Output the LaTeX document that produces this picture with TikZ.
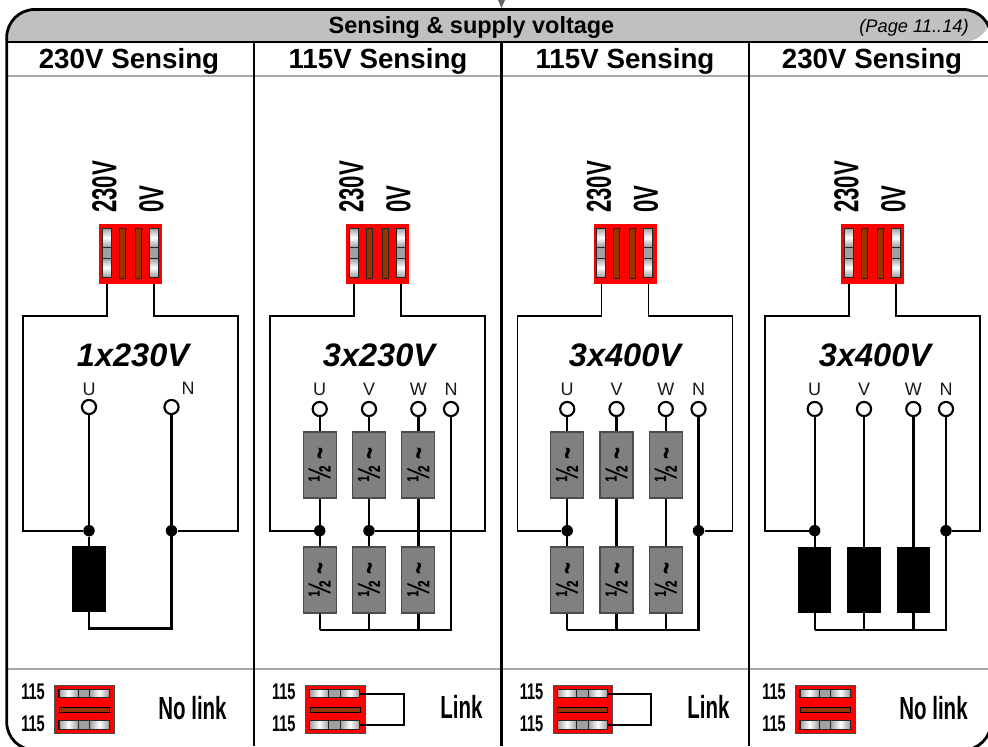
\documentclass[tikz,border=0pt]{standalone}
\usepackage{fontspec}
\usepackage{graphicx}
\setmainfont{Liberation Sans}
\newfontfamily\narrowfont[FakeStretch=0.64]{Liberation Sans}
\definecolor{bandgray}{HTML}{C0C0C0}
\definecolor{rulegray}{HTML}{A8A8A8}
\definecolor{halfgray}{HTML}{808080}
\definecolor{seggray}{HTML}{A0A0A0}
\definecolor{barbrown}{HTML}{993300}
\tikzset{
	wire/.style={line width=1.8pt,black},
	sensewire/.style={line width=1.3pt,black},
	term/.style={circle,draw,fill=white,line width=1.6pt,minimum size=10.6pt,inner sep=0pt},
	dot/.style={circle,fill=black,minimum size=8.6pt,inner sep=0pt},
	termtext/.style={inner sep=0pt,font=\fontsize{13.5}{13.5}\selectfont,text=black!90},
	headtext/.style={anchor=base,inner sep=0pt,font=\fontsize{20.8}{20.8}\selectfont\bfseries},
	supply/.style={inner sep=0pt,font=\fontsize{24.4}{24.4}\selectfont\bfseries\itshape},
	tiptext/.style={inner sep=0pt,font=\fontsize{26}{26}\selectfont\narrowfont\bfseries},
	smalltext/.style={inner sep=0pt,font=\fontsize{17}{17}\selectfont\narrowfont\bfseries},
	linktext/.style={inner sep=0pt,font=\fontsize{24}{24}\selectfont\narrowfont\bfseries},
	plate/.style={draw=black!70,line width=.4pt,fill=red,inner sep=0pt},
	halfbox/.style={draw=black!70,line width=.9pt,fill=halfgray,inner sep=0pt,minimum width=24.75pt,minimum height=49.5pt,font=\fontsize{24}{24}\selectfont\narrowfont\bfseries},
	loadbox/.style={fill=black,inner sep=0pt,minimum width=25pt,minimum height=49.5pt},
	barbox/.style={draw,line width=.8pt,inner sep=0pt,minimum width=37.5pt,minimum height=6.5pt},
	seg/.style={draw=black!85,line width=.6pt},
	shadeh/.style={seg,left color=black!38,right color=black!38,middle color=white},
	shadev/.style={seg,top color=black!38,bottom color=black!38,middle color=white}
}
\begin{document}
\begin{tikzpicture}[x=.75pt,y=-.75pt]
	\path[use as bounding box,clip] (0,0) rectangle (988,746);
	\fill[white] (0,0) rectangle (988,746);
	\fill[bandgray] (6.7,42) {[rounded corners=21pt] -- (6.7,9.5) -- (991,9.5) -- (991,42)} -- cycle;
	\fill[black!60] (498,0) -- (505,0) -- (501.5,8) -- cycle;
	\draw[rulegray,line width=.9pt] (7,76) -- (988,76);
	\draw[rulegray,line width=.9pt] (7,669) -- (988,669);
	\foreach \x in {254,501.3,749}
	\draw[line width=1.8pt] (\x,42) -- (\x,746);
	\draw[line width=1.9pt] (6.7,42) -- (991,42);
	\draw[line width=2.1pt,rounded corners=21pt] (6.7,9.5) rectangle (991,750);
	\node[anchor=base,inner sep=0pt,font=\fontsize{17.6}{17.6}\selectfont\bfseries] (title) at (471.5,33) {Sensing \& supply voltage};
	\node[anchor=base,inner sep=0pt,font=\fontsize{13.7}{13.7}\selectfont\itshape] (page) at (914,32) {(Page 11..14)};
	\foreach \x/\txt/\i in {129/230V Sensing/a,378/115V Sensing/b,625/115V Sensing/c,872/230V Sensing/d}
	\node[headtext] (head\i) at (\x,68) {\txt};
	% switch and sense loop, same in every column
	\foreach \dx/\i/\txt/\cx in {0/a/1x230V/133,247/b/3x230V/379,494.5/c/3x400V/625,742/d/3x400V/875} {
		\node[tiptext,rotate=90] (hi\i) at (\dx+104.5,187) {230V};
		\node[tiptext,rotate=90] (lo\i) at (\dx+151.5,199) {0V};
		\node[plate,draw=none,minimum width=47.25pt,minimum height=45pt] (dip\i) at (\dx+130.5,254) {};
		\foreach \x in {102,149} {
			\draw[shadev] (\dx+\x,228) rectangle (\dx+\x+9,247);
			\draw[seg,fill=seggray] (\dx+\x,247) rectangle (\dx+\x+9,258);
			\draw[shadev] (\dx+\x,258) rectangle (\dx+\x+9,277);
		}
		\foreach \x in {119,135}
		\draw[seg,fill=barbrown] (\dx+\x,228) rectangle (\dx+\x+6,278);
		\coordinate (swl\i) at (\dx+107,284);
		\coordinate (swr\i) at (\dx+154,284);
		\node[supply] (volt\i) at (\cx,355) {\txt};
	}
	% 1x230V
	\node[term] (ta) at (89,407) {};
	\node[term] (tna) at (171.5,407) {};
	\node[termtext] (ula) at (89,389) {U};
	\node[termtext] (nla) at (188,388) {N};
	\node[dot] (jla) at (89,530.7) {};
	\node[dot] (jra) at (171.5,530.7) {};
	\node[loadbox] (loada) at (89,579) {};
	\coordinate (busla) at (89,628.5);
	\coordinate (busra) at (171.5,628.5);
	\draw[wire] (ta) -- (jla) -- (loada.north);
	\draw[wire] (loada.south) -- (busla) -- (busra) -- (tna);
	% three phase columns
	\foreach \dx/\i in {247/b,494.5/c,742/d} {
		\foreach \x/\ph in {72.7/U,122/V,171.3/W,204/N} {
			\node[term] (t\ph\i) at (\dx+\x,409) {};
			\node[termtext] (l\ph\i) at (\dx+\x,389) {\ph};
			\coordinate (bus\ph\i) at (\dx+\x,630);
		}
		\draw[wire] (tN\i) -- (busN\i) -- (busU\i);
	}
	\foreach \dx/\i in {247/b,494.5/c} {
		\foreach \x/\ph in {72.7/U,122/V,171.3/W} {
			\node[halfbox] (up\ph\i) at (\dx+\x,465) {\rotatebox{90}{½\,\textasciitilde}};
			\node[halfbox] (dn\ph\i) at (\dx+\x,580) {\rotatebox{90}{½\,\textasciitilde}};
			\draw[wire] (t\ph\i) -- (up\ph\i.north);
			\draw[wire] (up\ph\i.south) -- (dn\ph\i.north);
			\draw[wire] (dn\ph\i.south) -- (bus\ph\i);
		}
	}
	\foreach \x/\ph in {72.7/U,122/V,171.3/W} {
		\node[loadbox] (load\ph d) at (742+\x,580) {};
		\draw[wire] (t\ph d) -- (load\ph d.north);
		\draw[wire] (load\ph d.south) -- (bus\ph d);
	}
	% where the sense loops land
	\node[dot] (jlb) at (319.7,530.7) {};
	\node[dot] (jrb) at (369,530.7) {};
	\node[dot] (jlc) at (567.2,530.7) {};
	\node[dot] (jrc) at (698.5,530.7) {};
	\node[dot] (jld) at (814.7,530.7) {};
	\node[dot] (jrd) at (946,530.7) {};
	\foreach \dx/\i in {0/a,247/b,494.5/c,742/d} {
		\draw[sensewire] (swl\i) -- (\dx+107,316) -- (\dx+23,316) -- (\dx+23,530.7) -- (jl\i);
		\draw[sensewire] (swr\i) -- (\dx+154,316) -- (\dx+238,316) -- (\dx+238,530.7) -- (jr\i);
	}
	% bottom row
	\foreach \dx/\i in {0/a,250.8/b,498.5/c,741/d} {
		\node[smalltext] (onea\i) at (\dx+33,692) {115};
		\node[smalltext] (oneb\i) at (\dx+33,724) {115};
		\node[plate,minimum width=44.75pt,minimum height=36.25pt] (link\i) at (\dx+84.3,709.5) {};
		\node[barbox] (barup\i) at (\dx+84,693.5) {};
		\node[barbox] (bardn\i) at (\dx+84,725) {};
		\node[barbox,fill=barbrown,minimum height=4pt] (barmid\i) at (\dx+84.3,709.8) {};
		\foreach \y/\z in {689.3/697.7,720.7/729.3} {
			\draw[shadeh] (\dx+59,\y) rectangle (\dx+78,\z);
			\draw[seg,fill=seggray] (\dx+78,\y) rectangle (\dx+89.5,\z);
			\draw[shadeh] (\dx+89.5,\y) rectangle (\dx+109,\z);
		}
	}
	\node[linktext] (texta) at (192.5,708) {No link};
	\node[linktext] (textb) at (461.5,707) {Link};
	\node[linktext] (textc) at (708.5,707) {Link};
	\node[linktext] (textd) at (933.5,708) {No link};
	\foreach \i/\x in {b/404,c/651} {
		\coordinate (turnup\i) at (\x,693.5);
		\coordinate (turndn\i) at (\x,725);
		\draw[wire,line width=1.5pt] (barup\i.east) -- (turnup\i) -- (turndn\i) -- (bardn\i.east);
	}
\end{tikzpicture}
\end{document}
